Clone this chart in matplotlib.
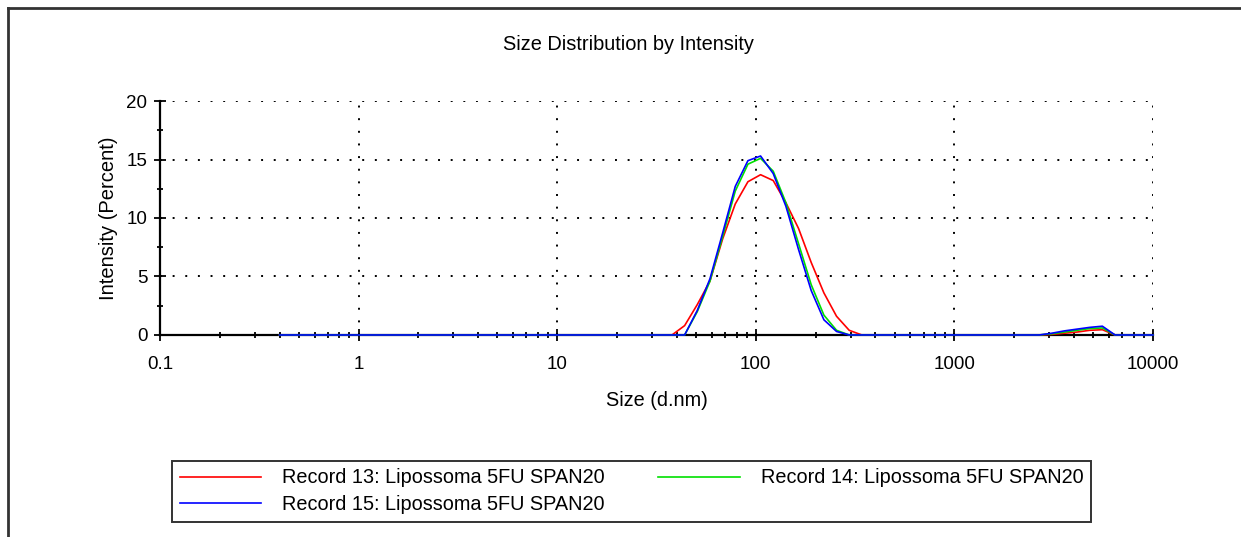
import matplotlib.pyplot as plt
from matplotlib.lines import Line2D
from matplotlib.ticker import FixedLocator, NullFormatter, MultipleLocator

plt.rcParams['font.family'] = ['Liberation Sans', 'DejaVu Sans']

# Malvern size classes (d.nm)
sizes = [0.4, 0.4632, 0.5365, 0.6213, 0.7195, 0.8332, 0.9649, 1.117, 1.294, 1.499,
         1.736, 2.010, 2.328, 2.696, 3.122, 3.615, 4.187, 4.849, 5.615, 6.503,
         7.531, 8.721, 10.10, 11.70, 13.54, 15.69, 18.17, 21.04, 24.36, 28.21,
         32.67, 37.84, 43.82, 50.75, 58.77, 68.06, 78.82, 91.28, 105.7, 122.4,
         141.8, 164.2, 190.1, 220.2, 255.0, 295.3, 342.0, 396.1, 458.7, 531.2,
         615.1, 712.4, 825.0, 955.4, 1106, 1281, 1484, 1718, 1990, 2305,
         2669, 3091, 3580, 4145, 4801, 5560, 6439, 7456, 8635, 10000]

# intensity (%) - zero outside the two peaks
rec13 = ([0.0] * 31
         + [0.0, 0.8, 2.6, 4.6, 8.2, 11.2, 13.1, 13.7, 13.2, 11.3, 9.1, 6.2, 3.6, 1.6, 0.4, 0.0]
         + [0.0] * 14
         + [0.05, 0.15, 0.25, 0.4, 0.45, 0.0, 0.0, 0.0, 0.0])
rec14 = ([0.0] * 32
         + [0.0, 2.0, 4.6, 8.4, 12.3, 14.6, 15.1, 14.0, 11.3, 7.8, 4.3, 1.7, 0.4, 0.0]
         + [0.0] * 15
         + [0.1, 0.25, 0.4, 0.55, 0.6, 0.0, 0.0, 0.0, 0.0])
rec15 = ([0.0] * 32
         + [0.0, 2.1, 4.8, 8.7, 12.7, 14.9, 15.3, 13.8, 11.0, 7.3, 3.8, 1.3, 0.3, 0.0]
         + [0.0] * 15
         + [0.15, 0.35, 0.5, 0.65, 0.75, 0.0, 0.0, 0.0, 0.0])

labels = ["Record 13: Lipossoma 5FU SPAN20",
          "Record 14: Lipossoma 5FU SPAN20",
          "Record 15: Lipossoma 5FU SPAN20"]
colors = ["#ff0000", "#00e000", "#0000ff"]

fig = plt.figure(figsize=(12.41, 5.37), dpi=100)
ax = fig.add_axes([0.1289, 0.3762, 0.8002, 0.4357])

lines = []
for vals, lab, col in zip([rec13, rec14, rec15], labels, colors):
    ln, = ax.plot(sizes, vals, color=col, lw=1.2, label=lab, zorder=5, clip_on=False)
    lines.append(ln)

ax.set_xscale('log')
ax.set_xlim(0.1, 10000)
ax.set_ylim(0, 20)

ax.xaxis.set_major_locator(FixedLocator([0.1, 1, 10, 100, 1000, 10000]))
ax.set_xticklabels(["0.1", "1", "10", "100", "1000", "10000"])
minor = [m * 10.0 ** e for e in range(-1, 4) for m in range(2, 10)]
ax.xaxis.set_minor_locator(FixedLocator(minor))
ax.xaxis.set_minor_formatter(NullFormatter())
ax.yaxis.set_major_locator(MultipleLocator(5))
ax.yaxis.set_minor_locator(MultipleLocator(2.5))

ax.tick_params(which='major', direction='inout', length=8, width=1.3, labelsize=13.5)
ax.tick_params(axis='x', which='major', pad=11)
ax.tick_params(axis='y', which='major', pad=5)
ax.tick_params(which='minor', direction='inout', length=5, width=1.3)

for s in ['top', 'right']:
    ax.spines[s].set_visible(False)
for s in ['left', 'bottom']:
    ax.spines[s].set_linewidth(1.6)

ax.grid(True, which='major', color='black', linestyle=(0, (1, 5.5)), linewidth=1.4)

fig.text(0.506, 0.918, "Size Distribution by Intensity", fontsize=14.4,
         ha='center', va='center')
ax.set_xlabel("Size (d.nm)", fontsize=14.3, labelpad=13)
ax.set_ylabel("Intensity (Percent)", fontsize=14.5, labelpad=6)

leg = fig.legend([lines[0], lines[2], lines[1]],
                 [labels[0], labels[2], labels[1]],
                 ncol=2, loc='lower left', bbox_to_anchor=(0.1386, 0.028),
                 fontsize=14.3, frameon=True, fancybox=False, shadow=False,
                 handlelength=4.1, handletextpad=1.05, columnspacing=2.7,
                 borderpad=0.4, labelspacing=0.38, borderaxespad=0)
leg.get_frame().set_edgecolor('black')
leg.get_frame().set_linewidth(1.4)

# window frame lines (top and left)
fig.add_artist(Line2D([0.0065, 1.0], [0.985, 0.985], color='#333333', lw=2))
fig.add_artist(Line2D([0.0065, 0.0065], [0.0, 0.985], color='#333333', lw=2))

fig.savefig("out.png", dpi=100)
